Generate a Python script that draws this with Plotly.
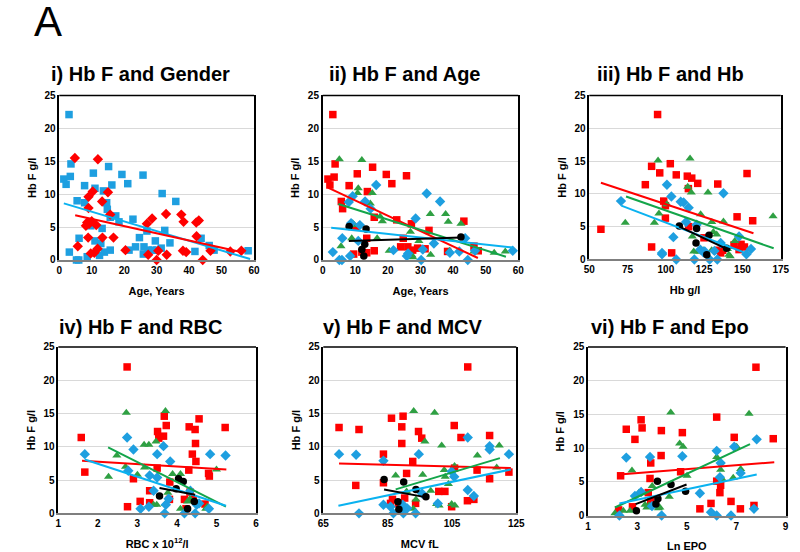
import plotly.graph_objects as go

# ---------------- DATA ----------------
# Panel i: Hb F and Gender (blue squares / red diamonds)
p1_sq_x = [3.0,1.4,2.1,3.6,3.4,3.1,5.3,6.0,5.5,6.1,7.8,7.8,8.6,9.7,10.5,11.0,11.0,12.8,12.4,13.2,
           13.6,13.9,14.6,14.8,15.2,15.7,15.7,16.2,17.4,18.4,19.3,21.1,21.5,22.7,23.5,24.7,25.8,25.9,26.1,27.0,
           27.4,28.7,29.6,30.1,31.7,31.4,32.5,34.1,35.9,41.8,43.7,46.2,47.7,58.2]
p1_sq_y = [22.1,12.3,11.5,14.6,12.7,1.2,0.0,0.0,9.0,3.3,11.3,8.7,0.5,5.2,13.2,10.9,2.9,2.5,0.7,4.8,
           10.5,1.2,8.7,7.7,14.2,6.5,1.5,11.4,6.7,5.8,13.0,11.6,1.5,6.2,2.0,3.4,12.9,0.9,2.0,4.4,
           1.5,1.5,2.9,1.5,10.1,1.8,4.5,2.6,8.9,1.3,3.3,2.2,1.5,1.4]
p1_di_x = [4.8,5.7,9.0,9.0,10.3,8.2,8.6,9.2,10.0,8.9,9.7,10.8,11.4,11.9,11.8,13.2,13.3,15.0,15.7,16.7,
           20.4,27.0,27.4,28.6,30.0,30.5,32.9,33.1,37.6,38.3,38.1,39.1,42.2,42.3,43.0,44.2,46.6,52.7,56.1]
p1_di_y = [15.5,2.1,7.9,9.6,10.4,5.2,5.7,5.5,5.9,3.4,1.0,1.1,5.3,15.3,1.7,8.9,3.4,10.3,6.9,3.4,
           1.5,5.5,0.8,6.3,0.0,1.4,7.0,0.8,6.9,5.8,1.4,1.2,5.7,3.6,6.0,0.0,1.4,1.3,1.4]
p1_fit_blue_x = [1.4, 58.8]; p1_fit_blue_y = [8.6, 0.15]
p1_fit_red_x = [4.9, 56.0];  p1_fit_red_y = [6.8, 1.2]

# Panel ii: Hb F and Age
p2_sq_x = [3.1,1.6,2.2,3.8,3.5,5.7,6.1,8.1,9.5,10.2,10.6,12.0,13.7,13.5,13.5,15.3,15.8,15.8,19.5,21.2,
           22.7,23.9,24.7,25.7,26.1,27.2,27.6,29.1,31.4,32.6,38.3,43.3,46.4,47.7]
p2_sq_y = [22.1,12.3,11.4,14.6,12.6,8.9,7.8,11.3,0.9,5.0,13.1,1.2,10.4,1.1,3.3,14.1,6.5,1.4,13.0,11.6,
           6.1,2.0,3.3,12.8,2.0,5.5,1.5,1.8,1.7,4.5,1.3,5.9,2.1,1.4]
p2_tr_x = [5.1,5.6,12.0,10.7,10.9,9.2,9.7,8.9,14.6,15.2,16.7,17.6,18.3,20.4,26.9,27.4,27.6,29.5,33.0,33.1,
           37.7,38.5,38.9,42.4,46.4,52.6,56.0]
p2_tr_y = [15.3,2.1,15.2,10.2,10.9,5.6,5.3,3.3,8.6,10.2,3.3,6.6,5.9,1.4,4.3,0.7,0.4,2.9,7.0,0.8,
           7.0,5.8,1.4,5.5,1.3,1.1,1.3]
p2_di_x = [3.1,5.1,5.9,6.0,8.0,8.4,8.7,9.2,10.9,11.4,13.0,14.7,16.4,21.7,25.8,26.2,28.5,30.2,30.7,31.9,
           34.1,36.0,39.0,41.9,43.7,44.5,46.7,58.3]
p2_di_y = [1.2,0,0,3.3,8.8,0.6,5.6,9.7,2.9,5.3,8.9,7.8,11.4,1.5,0.6,1.0,6.3,0,1.6,10.1,
           2.5,8.9,1.1,1.3,3.3,0,1.4,1.4]
p2_ci_x = [8.1,13.3,12.9,12.0,12.6,42.4]
p2_ci_y = [5.1,4.7,2.4,1.6,0.6,3.5]
p2_fit_red_x = [1.6, 47.6];   p2_fit_red_y = [11.0, 0.3]
p2_fit_green_x = [4.8, 56.2]; p2_fit_green_y = [8.5, 0.5]
p2_fit_blue_x = [2.6, 58.3];  p2_fit_blue_y = [4.9, 1.9]
p2_fit_black_x = [8.0, 42.4]; p2_fit_black_y = [2.9, 3.4]

# Panel iii: Hb F and Hb
p3_sq_x = [57.6,90.7,86.6,90.7,96.0,94.6,99.7,98.6,99.7,102.9,103.8,106.8,114.0,114.7,114.9,116.9,120.8,124.9,133.9,134.5,
           135.8,137.1,144.5,146.5,147.8,149.1,151.3,153.0,156.7]
p3_sq_y = [4.6,1.9,11.4,14.2,13.2,22.1,8.2,8.9,6.3,14.6,1.0,12.9,12.7,10.8,5.0,12.4,11.6,3.3,11.5,1.4,
           1.0,1.4,2.2,6.5,1.5,2.3,1.9,13.1,5.9]
p3_tr_x = [94.9,115.8,73.5,92.5,95.5,100.7,114.3,116.6,127.5,122.7,130.0,131.0,117.3,118.2,120.8,122.3,124.5,137.6,140.2,141.1,
           142.0,145.0,170.0,133.2,129.9]
p3_tr_y = [15.1,15.4,5.6,5.6,7.0,8.4,11.1,10.2,10.2,6.9,5.7,4.2,3.5,1.2,1.2,1.2,1.4,5.8,1.6,0.7,
           0.5,2.8,6.6,3.8,1.4]
p3_di_x = [70.7,97.5,97.5,100.7,103.6,104.9,106.8,109.7,111.6,114.9,113.2,118.6,120.1,122.5,124.5,125.4,128.6,131.7,133.6,135.8,
           137.6,147.8,152.6,155.6]
p3_di_y = [8.9,1.0,0.8,11.4,9.6,3.4,0,8.8,8.7,7.9,5.7,0,5.3,1.5,1.1,1.2,0,1.3,0,2.5,
           10.1,3.5,0.8,1.6]
p3_ci_x = [108.8,120.1,119.7,128.2,126.7,139.7]
p3_ci_y = [5.1,4.7,2.5,3.7,0.7,1.7]
p3_fit_red_x = [57.6, 157.2];   p3_fit_red_y = [11.7, 4.0]
p3_fit_green_x = [74.0, 170.4]; p3_fit_green_y = [9.6, 1.7]
p3_fit_blue_x = [70.9, 150.8];  p3_fit_blue_y = [8.2, 1.1]
p3_fit_black_x = [108.8, 138.9]; p3_fit_black_y = [5.0, 1.7]

# Panel iv: Hb F and RBC
p4_sq_x = [1.58,1.67,2.74,2.75,2.90,3.07,3.31,3.31,3.50,3.51,3.54,3.66,3.68,3.73,3.82,3.81,4.19,4.23,4.30,4.31,
           4.33,4.39,4.46,4.47,4.48,4.56,4.41,4.71,4.80,4.82,5.22]
p4_sq_y = [11.4,6.2,22.0,1.0,5.2,1.8,3.4,1.6,6.8,12.3,11.3,11.6,14.6,13.2,4.7,2.1,2.1,0.7,6.5,13.0,
           3.2,8.9,12.6,10.5,7.8,14.2,2.2,1.4,6.0,5.6,12.9]
p4_tr_x = [2.72,2.70,2.27,2.48,3.00,3.17,3.29,3.18,3.47,3.71,3.41,3.49,3.71,3.77,3.89,4.09,4.09,4.33,4.27,4.73,
           4.77,5.00]
p4_tr_y = [15.1,7.0,5.5,8.7,5.8,10.3,10.3,6.9,10.8,15.4,1.3,1.3,1.4,3.1,5.9,5.9,0.7,2.2,1.8,0.7,
           1.0,6.6]
p4_di_x = [1.67,2.74,2.90,2.77,3.08,3.31,3.41,3.29,3.50,3.50,3.66,3.69,3.83,3.72,3.79,4.19,4.34,4.46,4.50,4.56,
           4.81,4.84,5.23]
p4_di_y = [8.9,11.4,9.6,6.4,0.7,5.7,3.4,1.0,8.9,5.4,10.1,0,7.8,1.3,2.2,0,3.4,0,1.3,1.5,
           0.7,8.9,8.7]
p4_ci_x = [3.56,3.98,4.04,4.16,4.27,4.44]
p4_ci_y = [2.6,3.7,5.2,4.8,0.7,1.8]
p4_fit_red_x = [1.6, 5.25];    p4_fit_red_y = [7.9, 6.6]
p4_fit_green_x = [2.26, 5.24]; p4_fit_green_y = [9.9, 1.0]
p4_fit_blue_x = [1.67, 5.24];  p4_fit_blue_y = [8.1, 1.15]
p4_fit_black_x = [3.56, 4.46]; p4_fit_black_y = [3.8, 2.8]

# Panel v: Hb F and MCV
p5_sq_x = [69.9,75.1,76.1,83.7,83.7,86.2,86.5,89.4,89.4,89.8,90.3,90.9,92.8,93.7,94.6,95.6,100.9,102.8,104.9,105.7,
           105.8,107.8,109.9,109.8,111.8,112.8,116.7,116.7,122.7,88.4,85.9]
p5_sq_y = [12.9,4.2,12.6,8.9,4.6,14.3,2.1,13.0,10.5,14.6,2.3,6.0,7.8,1.5,12.3,11.3,3.3,3.3,1.0,13.2,
           6.8,11.4,22.0,1.9,2.1,6.5,11.7,5.2,6.2,1.5,1.5]
p5_tr_x = [93.1,99.6,96.6,101.8,112.9,119.7,87.5,95.9,102.6,102.9,103.9,105.8,118.9,98.4,90.9,93.8,100.2,101.0,104.9,105.9,
           93.0]
p5_tr_y = [15.4,15.1,10.8,10.2,8.7,10.2,5.7,5.8,6.5,5.5,4.4,7.1,6.9,3.4,3.3,2.1,1.4,1.2,1.4,1.2,
           0.7]
p5_di_x = [69.9,75.2,76.1,83.7,83.7,85.9,86.8,89.9,89.7,91.1,94.7,95.7,93.7,100.6,104.9,105.7,109.9,109.9,111.8,116.7,
           116.7,122.7]
p5_di_y = [8.9,8.8,0,7.9,1.3,1.0,0,0,1.3,0.75,8.9,3.0,0,1.5,6.3,5.5,11.4,3.5,2.6,10.1,
           9.6,8.9]
p5_ci_x = [83.9,90.0,93.8,96.9,88.2,88.5]
p5_ci_y = [5.1,4.7,3.6,2.5,1.75,0.6]
p5_fit_red_x = [69.9, 123.3];   p5_fit_red_y = [7.5, 6.8]
p5_fit_green_x = [87.5, 119.9]; p5_fit_green_y = [3.6, 8.3]
p5_fit_blue_x = [69.7, 123.3];  p5_fit_blue_y = [1.15, 6.6]
p5_fit_black_x = [83.9, 97.1];  p5_fit_black_y = [3.6, 2.4]

# Panel vi: Hb F and Epo
p6_sq_x = [2.24,2.32,2.55,2.80,2.90,3.15,3.19,3.44,3.51,3.54,3.54,3.96,3.97,4.75,4.82,5.53,5.98,6.21,6.21,6.34,
           6.37,6.79,6.92,7.17,7.72,7.80,8.50]
p6_sq_y = [0.84,5.9,12.8,1.3,11.3,14.2,13.0,3.4,5.5,7.8,2.2,8.9,12.6,6.5,12.3,1.0,1.8,14.6,5.1,3.4,
           4.5,2.1,11.6,1.0,1.5,22.0,11.4]
p6_tr_x = [2.09,2.43,2.70,2.78,3.06,3.15,3.31,3.38,3.47,3.60,3.85,3.91,4.29,4.35,4.71,4.85,5.01,6.21,6.37,6.44,
           6.88,7.02,7.18,7.52]
p6_tr_y = [0.35,0.7,0.7,6.7,3.4,3.4,1.6,1.2,1.5,4.4,1.1,1.2,2.8,15.3,10.7,10.2,5.9,8.7,6.8,5.4,
           5.6,10.2,6.9,15.1]
p6_di_x = [2.27,2.55,2.90,3.15,3.51,3.59,3.98,4.82,5.53,5.98,6.21,6.21,6.37,6.34,6.79,6.92,7.18,7.72,7.83]
p6_di_y = [0,8.6,2.9,3.5,8.7,1.4,0,8.8,3.3,0.5,0,9.6,7.8,5.7,0,10.2,6.3,1.0,11.3]
p6_ci_x = [2.96,3.81,3.75,3.83,4.36,4.95]
p6_ci_y = [0.7,5.1,1.7,2.5,4.6,3.6]
p6_fit_red_x = [2.27, 8.54];   p6_fit_red_y = [6.1, 7.9]
p6_fit_green_x = [2.09, 7.56]; p6_fit_green_y = [1.2, 10.6]
p6_fit_blue_x = [2.27, 7.83];  p6_fit_blue_y = [1.8, 6.1]
p6_fit_black_x = [2.93, 4.99]; p6_fit_black_y = [1.7, 4.6]

titles = ["i) Hb F and Gender", "ii) Hb F and Age", "iii) Hb F and Hb",
          "iv) Hb F and RBC", "v) Hb F and MCV", "vi) Hb F and Epo"]
x_titles = ["Age, Years", "Age, Years", "Hb g/l", "RBC x 10<sup>12</sup>/l", "MCV fL", "Ln EPO"]
x_ranges = [[0, 60], [0, 60], [50, 175], [1, 6], [65, 125], [1, 9]]
x_dticks = [10, 10, 25, 1, 20, 2]
y_title = "Hb F g/l"
y_range = [0, 25]

# ---------------- STYLE ----------------
RED = '#FF0000'
BLUE = '#1E9FE0'
GREEN = '#2FA043'
LBLUE = '#0AB2F0'
LGREEN = '#13A54A'
FONT = 'Arial, Liberation Sans, sans-serif'

x_domains = [[0.0741, 0.3175], [0.4034, 0.6479], [0.7366, 0.9759],
             [0.0729, 0.3200], [0.4041, 0.6454], [0.7350, 0.9820]]
y_domains = [[0.529, 0.827], [0.529, 0.827], [0.530, 0.827],
             [0.070, 0.3714], [0.070, 0.3714], [0.066, 0.3714]]
title_x = [140, 404, 670, 140, 403, 670]
title_y = [74, 74, 74, 327, 327, 327]

def ax(i):
    return ('x', 'y') if i == 1 else (f'x{i}', f'y{i}')

fig = go.Figure()

def add_pts(i, x, y, symbol, color, size):
    xa, ya = ax(i)
    fig.add_trace(go.Scatter(x=x, y=y, mode='markers', xaxis=xa, yaxis=ya,
                             cliponaxis=False, showlegend=False,
                             marker=dict(symbol=symbol, color=color, size=size, line=dict(width=0))))

def add_line(i, x, y, color):
    xa, ya = ax(i)
    fig.add_trace(go.Scatter(x=x, y=y, mode='lines', xaxis=xa, yaxis=ya,
                             showlegend=False, line=dict(color=color, width=2)))

# panel 1
add_pts(1, p1_sq_x, p1_sq_y, 'square', BLUE, 7.5)
add_pts(1, p1_di_x, p1_di_y, 'diamond', RED, 8)
add_line(1, p1_fit_blue_x, p1_fit_blue_y, LBLUE)
add_line(1, p1_fit_red_x, p1_fit_red_y, RED)

panels = [
    (2, p2_sq_x, p2_sq_y, p2_tr_x, p2_tr_y, p2_di_x, p2_di_y, p2_ci_x, p2_ci_y,
     (p2_fit_red_x, p2_fit_red_y), (p2_fit_green_x, p2_fit_green_y), (p2_fit_blue_x, p2_fit_blue_y), (p2_fit_black_x, p2_fit_black_y)),
    (3, p3_sq_x, p3_sq_y, p3_tr_x, p3_tr_y, p3_di_x, p3_di_y, p3_ci_x, p3_ci_y,
     (p3_fit_red_x, p3_fit_red_y), (p3_fit_green_x, p3_fit_green_y), (p3_fit_blue_x, p3_fit_blue_y), (p3_fit_black_x, p3_fit_black_y)),
    (4, p4_sq_x, p4_sq_y, p4_tr_x, p4_tr_y, p4_di_x, p4_di_y, p4_ci_x, p4_ci_y,
     (p4_fit_red_x, p4_fit_red_y), (p4_fit_green_x, p4_fit_green_y), (p4_fit_blue_x, p4_fit_blue_y), (p4_fit_black_x, p4_fit_black_y)),
    (5, p5_sq_x, p5_sq_y, p5_tr_x, p5_tr_y, p5_di_x, p5_di_y, p5_ci_x, p5_ci_y,
     (p5_fit_red_x, p5_fit_red_y), (p5_fit_green_x, p5_fit_green_y), (p5_fit_blue_x, p5_fit_blue_y), (p5_fit_black_x, p5_fit_black_y)),
    (6, p6_sq_x, p6_sq_y, p6_tr_x, p6_tr_y, p6_di_x, p6_di_y, p6_ci_x, p6_ci_y,
     (p6_fit_red_x, p6_fit_red_y), (p6_fit_green_x, p6_fit_green_y), (p6_fit_blue_x, p6_fit_blue_y), (p6_fit_black_x, p6_fit_black_y)),
]
for (i, sx, sy, tx, ty, dx, dy, cx, cy, fr, fg, fb, fk) in panels:
    add_pts(i, sx, sy, 'square', RED, 7.5)
    add_pts(i, tx, ty, 'triangle-up', GREEN, 8)
    add_pts(i, dx, dy, 'diamond', BLUE, 8)
    add_pts(i, cx, cy, 'circle', '#000000', 7.5)
    add_line(i, fr[0], fr[1], RED)
    add_line(i, fg[0], fg[1], LGREEN)
    add_line(i, fb[0], fb[1], LBLUE)
    add_line(i, fk[0], fk[1], '#000000')

layout = dict(width=800, height=552, margin=dict(l=0, r=0, t=0, b=0, autoexpand=False),
              paper_bgcolor='white', plot_bgcolor='white',
              font=dict(family=FONT, color='#000000'), showlegend=False)
shapes = []
annotations = [dict(text="A", x=48 / 800, y=1 - 22 / 552, xref='paper', yref='paper', showarrow=False,
                    xanchor='center', yanchor='middle',
                    font=dict(size=42, family=FONT, color='#000000'))]
for k in range(6):
    i = k + 1
    sfx = '' if i == 1 else str(i)
    xa, ya = ax(i)
    layout['xaxis' + sfx] = dict(domain=x_domains[k], anchor=ya, range=x_ranges[k], dtick=x_dticks[k],
                                 tick0=x_ranges[k][0], showgrid=False, zeroline=False, showline=True,
                                 linecolor='#7F7F7F', linewidth=2, ticks='', automargin=False,
                                 tickfont=dict(size=10, family=FONT, weight='bold'),
                                 title=dict(text=x_titles[k], standoff=12,
                                            font=dict(size=11, family=FONT, weight='bold')))
    layout['yaxis' + sfx] = dict(domain=y_domains[k], anchor=xa, range=y_range, dtick=5,
                                 showgrid=True, gridcolor='#D9D9D9', gridwidth=1, zeroline=False,
                                 showline=True, linecolor='#000000', linewidth=1.5, mirror=True, ticks='',
                                 automargin=False,
                                 tickfont=dict(size=10, family=FONT, weight='bold'),
                                 title=dict(text=y_title, standoff=6,
                                            font=dict(size=11, family=FONT, weight='bold')))
    shapes.append(dict(type='line', xref=f'{xa} domain', yref=f'{ya} domain', x0=0, x1=1, y0=1, y1=1,
                       line=dict(color='#000000', width=1.5)))
    annotations.append(dict(text=f"<b>{titles[k]}</b>", x=title_x[k] / 800, y=1 - title_y[k] / 552,
                            xref='paper', yref='paper', showarrow=False, xanchor='center', yanchor='middle',
                            font=dict(size=20, family=FONT, color='#000000')))
layout['shapes'] = shapes
layout['annotations'] = annotations
fig.update_layout(**layout)
fig.write_html("out.html", config={'displayModeBar': False},
               post_script="document.body.style.margin='0';document.body.style.padding='0';")
